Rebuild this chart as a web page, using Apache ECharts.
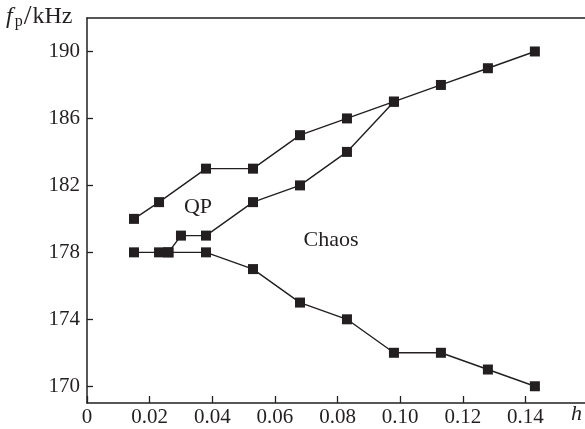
<!DOCTYPE html>
<html>
<head>
<meta charset="utf-8">
<script src="https://cdn.jsdelivr.net/npm/echarts@6/dist/echarts.min.js"></script>
<style>
  html, body { margin: 0; padding: 0; background: #fff; }
  #chart { width: 585px; height: 429px; }
</style>
</head>
<body>
<div id="chart"></div>
<script>
// values: h (x) against f_p in kHz (y)
var upperH = [0.015, 0.023, 0.038, 0.053, 0.068, 0.083, 0.098, 0.113, 0.128, 0.143];
var upperF = [180, 181, 183, 183, 185, 186, 187, 188, 189, 190];

var middleH = [0.026, 0.030, 0.038, 0.053, 0.068, 0.083, 0.098];
var middleF = [178, 179, 179, 181, 182, 184, 187];

var lowerH = [0.015, 0.023, 0.026, 0.038, 0.053, 0.068, 0.083, 0.098, 0.113, 0.128, 0.143];
var lowerF = [178, 178, 178, 178, 177, 175, 174, 172, 172, 171, 170];

var xTicks = [0, 0.02, 0.04, 0.06, 0.08, 0.10, 0.12, 0.14];
var yTicks = [170, 174, 178, 182, 186, 190];

var serif = "'Liberation Serif', 'DejaVu Serif', serif";
var ink = "#231f20";

function pairs(xs, ys) {
  return xs.map(function (x, i) { return [x, ys[i]]; });
}

function lineSeries(xs, ys) {
  return {
    type: "line",
    data: pairs(xs, ys),
    symbol: "rect",
    symbolSize: 10,
    lineStyle: { color: ink, width: 1.4 },
    itemStyle: { color: ink },
    animation: false
  };
}

var chart = echarts.init(document.getElementById("chart"));
chart.setOption({
  backgroundColor: "#fff",
  grid: { left: 87, right: 0, top: 18, bottom: 26 },
  xAxis: [{
    type: "value", min: 0, max: 0.159,
    axisLine: { lineStyle: { color: ink, width: 1.5 } },
    axisTick: { inside: true, length: 7, customValues: xTicks, lineStyle: { color: ink, width: 1.3 } },
    axisLabel: {
      customValues: xTicks, color: ink, fontFamily: serif, fontSize: 21, margin: 4,
      formatter: function (v) { return v === 0 ? "0" : v.toFixed(2); }
    },
    splitLine: { show: false }
  }, {
    // top frame line only
    type: "value", position: "top", min: 0, max: 0.159,
    axisLine: { show: true, lineStyle: { color: ink, width: 1.5 } },
    axisTick: { show: false }, axisLabel: { show: false }, splitLine: { show: false }
  }],
  yAxis: {
    type: "value", min: 169, max: 192,
    axisLine: { show: true, lineStyle: { color: ink, width: 1.5 } },
    axisTick: { show: true, inside: true, length: 6, customValues: yTicks, lineStyle: { color: ink, width: 1.3 } },
    axisLabel: { customValues: yTicks, color: ink, fontFamily: serif, fontSize: 21, margin: 7 },
    splitLine: { show: false }
  },
  graphic: [
    {
      type: "text", left: 6, top: 3,
      style: {
        text: "{f|f}{p|p}{s|/}{u|kHz}",
        rich: {
          f: { fontFamily: serif, fontSize: 24, fontStyle: "italic", fill: ink },
          p: { fontFamily: serif, fontSize: 16, fill: ink, padding: [10, 0, 0, 2] },
          s: { fontFamily: serif, fontSize: 28, fill: ink, padding: [0, 1, 0, 1] },
          u: { fontFamily: serif, fontSize: 24, fill: ink }
        }
      }
    },
    {
      type: "text", left: 571, top: 403,
      style: { text: "h", font: "italic 22px " + serif, fill: ink }
    },
    {
      type: "text", x: 198, y: 207,
      style: { text: "QP", font: "22px " + serif, fill: ink, align: "center", verticalAlign: "middle" }
    },
    {
      type: "text", x: 331, y: 240,
      style: { text: "Chaos", font: "22px " + serif, fill: ink, align: "center", verticalAlign: "middle" }
    }
  ],
  series: [
    lineSeries(upperH, upperF),
    lineSeries(middleH, middleF),
    lineSeries(lowerH, lowerF)
  ]
});
</script>
</body>
</html>
